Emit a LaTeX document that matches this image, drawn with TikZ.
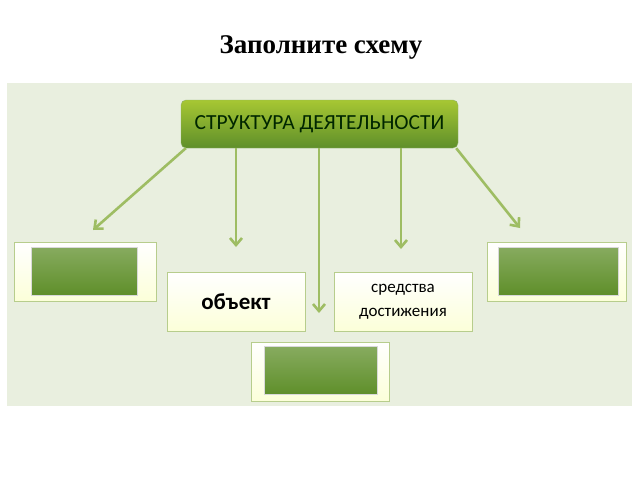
\documentclass[tikz,border=0pt]{standalone}
\usepackage{fontspec}
\setmainfont{Liberation Serif}
\newfontfamily\carlitofont{Carlito}
\usetikzlibrary{arrows.meta}
\definecolor{panel}{HTML}{E9EFDF}
\definecolor{arr}{HTML}{9EBD63}
\definecolor{boxedge}{HTML}{B7CD8C}
\definecolor{dgreen}{HTML}{5F8F2A}
\tikzset{
 outer/.style={draw=boxedge,line width=1pt,top color=white,bottom color=green!8!yellow!15!white,minimum width=#1,minimum height=59pt,inner sep=0pt},
 inner/.style={draw=white!85!black,line width=1pt,top color=dgreen!75!white,bottom color=dgreen,minimum width=#1,minimum height=48pt,inner sep=0pt},
 conn/.style={draw=arr,line width=2.6pt,-{Straight Barb[length=7pt,width=12pt,line width=2.6pt]}}
}
\begin{document}
\begin{tikzpicture}[x=1pt,y=-1pt]
\useasboundingbox (0,0) rectangle (640,480);
\fill[white] (0,0) rectangle (640,480);
\node[font=\bfseries\fontsize{27}{30}\selectfont] (title) at (321,47) {Заполните схему};
\fill[panel] (7,83) rectangle (632,406);
\node[rounded corners=5pt,draw=dgreen!70!white,top color=green!35!yellow!45!olive!80!white,bottom color=dgreen,minimum width=277pt,minimum height=48pt,font=\carlitofont\fontsize{21.5}{24}\selectfont,text=black!85!green] (top) at (319.5,124) {СТРУКТУРА ДЕЯТЕЛЬНОСТИ};
\node[outer=142pt] (L) at (85,271.5) {};
\node[inner=106pt] at (84,271) {};
\node[outer=139pt] (R) at (556.5,271.5) {};
\node[inner=120pt] at (558,271) {};
\node[outer=138pt,font=\carlitofont\bfseries\fontsize{23}{26}\selectfont] (O) at (236,301.5) {объект};
\node[outer=138pt,font=\carlitofont\fontsize{17}{24}\selectfont,align=center] (S) at (403,301.5) {средства\\достижения};
\node[outer=138pt] (B) at (320,371.5) {};
\node[inner=113pt] at (320.5,370.5) {};
\coordinate (e1) at (93,230);
\coordinate (e2) at (236,247);
\coordinate (e3) at (319,313);
\coordinate (e4) at (401,249);
\coordinate (e5) at (520,228);
\draw[conn] (top.south west)++(5,0) -- (e1);
\draw[conn] (top.south -| e2) -- (e2);
\draw[conn] (top.south -| e3) -- (e3);
\draw[conn] (top.south -| e4) -- (e4);
\draw[conn] (top.south east)++(-2,0) -- (e5);
\end{tikzpicture}
\end{document}
